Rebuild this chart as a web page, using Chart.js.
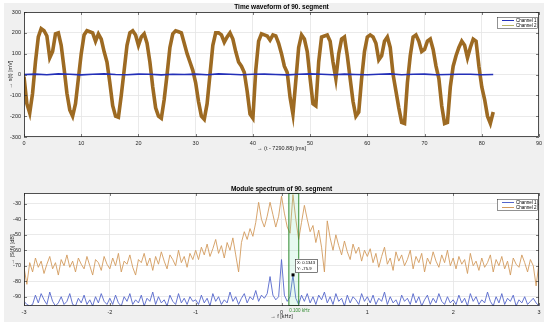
<!DOCTYPE html>
<html>
<head>
<meta charset="utf-8">
<script src="https://cdn.jsdelivr.net/npm/chart.js@4.4.1/dist/chart.umd.min.js"></script>
<style>
body { margin: 0; background: #fff; width: 550px; height: 329px; overflow: hidden; }
#panel { position: absolute; left: 4px; top: 3px; width: 540px; height: 319px; background: #f0f0f0; }
canvas { position: absolute; left: 0; }
#waveChart { top: 0; }
#specChart { top: 160px; }
</style>
</head>
<body>
<div id="panel"></div>
<canvas id="waveChart" width="550" height="160"></canvas>
<canvas id="specChart" width="550" height="169"></canvas>
<script>
// time waveform, 90. segment
let timeTicks = [0, 10, 20, 30, 40, 50, 60, 70, 80, 90];
let waveTicks = [-300, -200, -100, 0, 100, 200, 300];
let ch1Step = 2;
let ch1Wave = [0, 2, -1, 3, 1, -2, 1, 3, 0, -1, 2, 1, -2, 1, 0, 2, -1, 3, 1, -1, 1,
    2, 0, -2, 1, 3, 1, -1, 2, 0, -1, 1, 3, -1, 1, 2, -1, 0, 1, 1, -1, 0];
let ch2Step = 0.5;
let ch2Wave = [
    -10, -140, -185, -90, 60, 180, 220, 210, 185, 80,
    110, 195, 200, 140, 30, -90, -170, -200, -140, -20,
    100, 190, 210, 205, 200, 160, 195, 170, 110, 60,
    -40, -150, -200, -205, -100, 20, 140, 200, 210, 190,
    140, 180, 195, 150, 60, -60, -160, -200, -210, -120,
    0, 130, 195, 210, 205, 200, 150, 100, 60, 20,
    -40, -130, -200, -215, -140, 0, 140, 200, 200, 190,
    155, 180, 200, 170, 110, 60, 40, 10, -80, -190,
    -210, 20, 160, 195, 190, 185, 165, 190, 185, 150,
    100, 40, 10, -110, -190, -30, 130, 190, 170, 110,
    -20, -140, -150, 60, 180, 185, 190, 160, 60, -20,
    100, 170, 180, 90, -20, -130, -200, -180, -20, 110,
    180, 190, 180, 150, 70, 90, 160, 180, 130, 0,
    -80, -160, -230, -235, -40, 90, 180, 190, 160, 110,
    120, 160, 170, 120, 40, -20, -150, -235, -230, -60,
    40, 90, 130, 160, 140, 80, 130, 170, 160, 40,
    -60, -120, -200, -235, -180
];

// module spectrum, 90. segment
let freqTicks = [-3, -2, -1, 0, 1, 2, 3];
let specTicks = [-90, -80, -70, -60, -50, -40, -30];
let freqStart = -3;
let freqStep = 1 / 30;
let ch1Spec = [
    -93, -95, -96, -95, -89, -94, -88, -92, -95, -87, -93, -96, -94, -90, -95, -93, -88, -95, -96, -91, -94, -89, -95, -92, -96, -90, -94, -88, -93, -95,
    -91, -95, -89, -94, -96, -90, -93, -88, -95, -92, -94, -89, -96, -91, -93, -87, -95, -90, -94, -92, -96, -89, -93, -95, -88, -94, -91, -95, -90, -93,
    -92, -95, -89, -94, -91, -96, -88, -93, -90, -95, -92, -94, -87, -93, -90, -95, -91, -88, -94, -90, -92, -86, -93, -89, -91, -88, -77, -89, -92, -90,
    -66,
    -89, -93, -90, -76, -91, -95, -89, -93, -88, -94, -90, -95, -89, -92, -87, -94, -90, -95, -88, -93, -91, -96, -89, -94, -90, -92, -95, -88, -93, -90,
    -94, -89, -95, -91, -93, -87, -95, -90, -94, -92, -96, -89, -93, -91, -95, -88, -94, -90, -96, -92, -89, -95, -91, -94, -88, -93, -95, -90, -94, -92,
    -95, -89, -94, -91, -96, -88, -93, -90, -95, -92, -94, -87, -93, -96, -90, -94, -88, -95, -91, -93, -89, -96, -92, -94, -90, -95, -93, -91, -94, -96
];
let ch2Spec = [
    -71, -82, -68, -74, -65, -71, -67, -75, -69, -64, -72, -68, -76, -66, -70, -63, -71, -67, -74, -65, -69, -72, -64, -70, -76, -66, -68, -73, -64, -69,
    -72, -65, -70, -62, -74, -67, -69, -63, -71, -76, -66, -68, -62, -70, -65, -73, -64, -69, -61, -67, -72, -63, -66, -70, -60, -68, -64, -71, -62, -66,
    -60, -66, -58, -63, -56, -64, -59, -53, -62, -57, -65, -55, -60, -52, -63, -74, -55, -48, -53, -46, -51, -42, -29, -40, -45, -38, -29, -37, -45, -38,
    -25,
    -36, -45, -49, -24, -40, -53, -42, -31, -40, -48, -44, -55, -47, -58, -74, -41, -52, -60, -50, -57, -63, -54, -61, -66, -56, -62, -58, -67, -60, -64,
    -59, -68, -62, -71, -64, -58, -69, -65, -73, -61, -67, -63, -70, -66, -60, -72, -64, -68, -62, -74, -65, -69, -61, -67, -71, -63, -68, -60, -70, -65,
    -72, -64, -69, -66, -75, -62, -70, -67, -73, -65, -71, -68, -63, -74, -66, -70, -64, -72, -67, -76, -65, -69, -71, -63, -68, -74, -66, -70, -83, -68
];
let markerBand = [0.08, 0.195];
let bandLabel = "0.100 kHz";
let dataTip = { x: 0.1343, y: -75.9 };

const fontFamily = '"Liberation Sans", Arial, sans-serif';

// white axes, MATLAB style box, titles and legend
const matlabFrame = {
    id: "matlabFrame",
    beforeDraw(chart) {
        const { ctx, chartArea: a } = chart;
        ctx.save();
        ctx.fillStyle = "#ffffff";
        ctx.fillRect(a.left, a.top, a.width, a.height);
        ctx.restore();
    },
    afterDraw(chart, args, o) {
        const { ctx, chartArea: a, scales } = chart;
        const x = scales.x, y = scales.y;
        ctx.save();
        ctx.strokeStyle = "#262626";
        ctx.lineWidth = 0.6;
        ctx.beginPath();
        x.ticks.forEach((t) => {
            const p = Math.round(x.getPixelForValue(t.value)) + 0.5;
            ctx.moveTo(p, a.bottom); ctx.lineTo(p, a.bottom - 3);
            ctx.moveTo(p, a.top); ctx.lineTo(p, a.top + 3);
        });
        y.ticks.forEach((t) => {
            const p = Math.round(y.getPixelForValue(t.value)) + 0.5;
            ctx.moveTo(a.left, p); ctx.lineTo(a.left + 3, p);
            ctx.moveTo(a.right, p); ctx.lineTo(a.right - 3, p);
        });
        ctx.stroke();
        ctx.lineWidth = 0.8;
        ctx.strokeRect(a.left + 0.5, a.top + 0.5, a.width - 1, a.height - 1);

        ctx.fillStyle = "#000";
        ctx.textAlign = "center";
        ctx.textBaseline = "middle";
        ctx.font = "bold 6.5px " + fontFamily;
        ctx.fillText(o.title, (a.left + a.right) / 2, a.top - o.titleGap);
        ctx.fillStyle = "#262626";
        ctx.font = "5.5px " + fontFamily;
        ctx.fillText(o.xTitle, (a.left + a.right) / 2, a.bottom + o.xTitleGap);
        ctx.save();
        ctx.translate(o.yTitleX, (a.top + a.bottom) / 2);
        ctx.rotate(-Math.PI / 2);
        ctx.fillText(o.yTitle, 0, 0);
        ctx.restore();

        // legend box
        const lx = a.right - 42, ly = a.top + o.legendTop;
        ctx.fillStyle = "#fff";
        ctx.fillRect(lx, ly, 41, 12);
        ctx.strokeStyle = "#262626";
        ctx.lineWidth = 0.5;
        ctx.strokeRect(lx + 0.5, ly + 0.5, 40, 11);
        chart.data.datasets.filter((d) => d.label).forEach((d, i) => {
            const yy = ly + 3.5 + i * 5;
            ctx.strokeStyle = d.legendColor || d.borderColor;
            ctx.lineWidth = 1;
            ctx.beginPath();
            ctx.moveTo(lx + 5, yy); ctx.lineTo(lx + 17, yy);
            ctx.stroke();
            ctx.fillStyle = "#000";
            ctx.font = "4.5px " + fontFamily;
            ctx.textAlign = "left";
            ctx.fillText(d.label, lx + 19, yy);
        });
        ctx.restore();
    },
};

// marker band and data tip for the spectrum
const specMarks = {
    id: "specMarks",
    afterDatasetsDraw(chart) {
        const { ctx, chartArea: a, scales: { x, y } } = chart;
        const x0 = x.getPixelForValue(markerBand[0]);
        const x1 = x.getPixelForValue(markerBand[1]);
        ctx.save();
        ctx.fillStyle = "rgba(120, 220, 170, 0.18)";
        ctx.fillRect(x0, a.top, x1 - x0, a.height);
        ctx.strokeStyle = "#2f8a2f";
        ctx.lineWidth = 1;
        ctx.strokeRect(x0 + 0.5, a.top + 0.5, x1 - x0, a.height - 1);
        ctx.fillStyle = "#2f8a2f";
        ctx.font = "4.5px " + fontFamily;
        ctx.textAlign = "left";
        ctx.textBaseline = "middle";
        ctx.fillText(bandLabel, x0 + 1, a.bottom + 4.5);

        const px = x.getPixelForValue(dataTip.x);
        const py = y.getPixelForValue(dataTip.y);
        ctx.fillStyle = "#000";
        ctx.fillRect(px - 1.5, py - 1.5, 3, 3);
        ctx.fillStyle = "#fff";
        ctx.fillRect(px + 2, py - 16, 23, 14);
        ctx.strokeStyle = "#262626";
        ctx.lineWidth = 0.6;
        ctx.strokeRect(px + 2.5, py - 15.5, 22, 13);
        ctx.fillStyle = "#000";
        ctx.font = "4.2px " + fontFamily;
        ctx.fillText("X: " + dataTip.x, px + 4, py - 12);
        ctx.fillText("Y: " + dataTip.y, px + 4, py - 6.5);
        ctx.restore();
    },
};

function linearAxis(min, max, ticks, fixedSize, isX) {
    return {
        type: "linear",
        min: min,
        max: max,
        afterBuildTicks: (scale) => { scale.ticks = ticks.map((v) => ({ value: v })); },
        afterFit: (scale) => {
            if (isX) scale.height = fixedSize; else scale.width = fixedSize;
        },
        grid: { color: "#e4e4e4", lineWidth: 0.8, drawTicks: false },
        border: { display: false },
        ticks: {
            autoSkip: false,
            maxRotation: 0,
            padding: 3,
            color: "#262626",
            font: { family: fontFamily, size: 5.5 },
        },
    };
}

const common = {
    responsive: false,
    animation: false,
    events: [],
    elements: { point: { radius: 0 }, line: { tension: 0 } },
};

new Chart(document.getElementById("waveChart").getContext("2d"), {
    type: "line",
    data: {
        datasets: [
            {
                label: "Channel 1",
                data: ch1Wave.map((v, i) => ({ x: i * ch1Step, y: v })),
                borderColor: "#2430b8",
                borderWidth: 1.6,
            },
            {
                label: "Channel 2",
                data: ch2Wave.map((v, i) => ({ x: i * ch2Step, y: v })),
                borderColor: "#9d6a22",
                legendColor: "#b9b46a",
                borderWidth: 3.6,
            },
        ],
    },
    options: {
        ...common,
        layout: { padding: { left: 0, right: 11, top: 12, bottom: 0 } },
        scales: {
            x: linearAxis(0, 90, timeTicks, 23, true),
            y: linearAxis(-300, 300, waveTicks, 24, false),
        },
        plugins: {
            legend: { display: false },
            tooltip: { enabled: false },
            matlabFrame: {
                title: "Time waveform of 90. segment",
                titleGap: 5,
                xTitle: "\u2192 (t - 7290.88) [ms]",
                xTitleGap: 11,
                yTitle: "\u2192 s(t) [mV]",
                yTitleX: 10,
                legendTop: 5,
            },
        },
    },
    plugins: [matlabFrame],
});

new Chart(document.getElementById("specChart").getContext("2d"), {
    type: "line",
    data: {
        datasets: [
            {
                label: "Channel 1",
                data: ch1Spec.map((v, i) => ({ x: freqStart + i * freqStep, y: v })),
                borderColor: "#5566cc",
                borderWidth: 0.9,
            },
            {
                label: "Channel 2",
                data: ch2Spec.map((v, i) => ({ x: freqStart + i * freqStep, y: v })),
                borderColor: "#d39b5e",
                borderWidth: 0.9,
            },
        ],
    },
    options: {
        ...common,
        layout: { padding: { left: 0, right: 11, top: 33, bottom: 0 } },
        scales: {
            x: linearAxis(-3, 3, freqTicks, 23, true),
            y: linearAxis(-96, -23, specTicks, 24, false),
        },
        plugins: {
            legend: { display: false },
            tooltip: { enabled: false },
            matlabFrame: {
                title: "Module spectrum of 90. segment",
                titleGap: 4,
                xTitle: "\u2192 f [kHz]",
                xTitleGap: 10,
                yTitle: "\u2192 |S(f)| [dB]",
                yTitleX: 12,
                legendTop: 6,
            },
        },
    },
    plugins: [matlabFrame, specMarks],
});
</script>
</body>
</html>
